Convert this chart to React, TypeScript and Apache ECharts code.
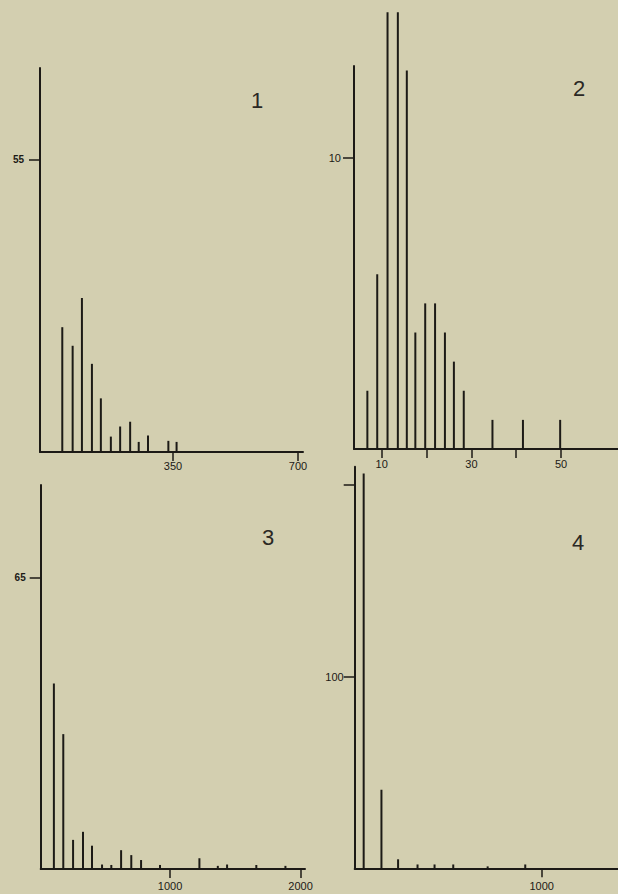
import React, { useEffect, useRef } from "react";
import * as echarts from "echarts";

// Panel 1
const p1X = [40, 69, 95, 123, 148, 176, 202, 230, 254, 280, 337, 360];
const p1Y = [23.5, 20, 29, 16.6, 10.1, 2.9, 4.8, 5.7, 1.9, 3.1, 2.1, 1.9];
const p1XTicks = [350, 700];
const p1XLabels = [350, 700];
const p1YTicks = [55];
const p1YLabels = [55];

// Panel 2
const p2X = [6.8, 9, 11.3, 13.6, 15.6, 17.5, 19.7, 21.9, 24.1, 26.1, 28.3, 34.7, 41.5, 49.8];
const p2Y = [2, 6, 15, 15, 13, 4, 5, 5, 4, 3, 2, 1, 1, 1];
const p2XTicks = [10, 20, 30, 40, 50];
const p2XLabels = [10, 30, 50];
const p2YTicks = [10];
const p2YLabels = [10];

// Panel 3
const p3X = [110, 182, 257, 333, 402, 479, 550, 625, 703, 778, 923, 1225, 1366, 1437, 1661, 1884];
const p3Y = [41.4, 30.1, 6.5, 8.3, 5.2, 1.0, 0.9, 4.2, 3.1, 2.0, 0.9, 2.4, 0.7, 1.0, 0.9, 0.7];
const p3XTicks = [1000, 2000];
const p3XLabels = [1000, 2000];
const p3YTicks = [65];
const p3YLabels = [65];

// Panel 4
const p4X = [48, 143, 232, 336, 427, 527, 711, 912];
const p4Y = [206, 41, 4.7, 2, 2, 2, 1, 2];
const p4XTicks = [1000];
const p4XLabels = [1000];
const p4YTicks = [100, 200];
const p4YLabels = [100];

const panelNames = ["1", "2", "3", "4"];

const INK = "#1c1a16";
const BG = "#d3cfb0";
const FONT = "Liberation Sans, Arial, sans-serif";

const plain = (v: number) => String(v);

function xAxisCfg(gridIndex: number, min: number, max: number, ticks: number[], labels: number[], margin: number) {
  return {
    type: "value",
    gridIndex,
    min,
    max,
    axisLine: { show: true, onZero: false, lineStyle: { color: INK, width: 2 } },
    axisTick: { show: true, length: 9, customValues: ticks, lineStyle: { color: INK, width: 1.5 } },
    axisLabel: { show: true, customValues: labels, formatter: plain, margin, color: INK, fontSize: 11, fontFamily: FONT },
    splitLine: { show: false },
  };
}

function yAxisCfg(gridIndex: number, max: number, ticks: number[], labels: number[], margin: number, bold: boolean, showLine = true) {
  return {
    type: "value",
    gridIndex,
    min: 0,
    max,
    axisLine: { show: showLine, onZero: false, lineStyle: { color: INK, width: 2 } },
    axisTick: { show: true, length: 11, customValues: ticks, lineStyle: { color: INK, width: 1.5 } },
    axisLabel: {
      show: true,
      customValues: labels,
      formatter: plain,
      margin,
      color: INK,
      fontSize: bold ? 10 : 11,
      fontWeight: bold ? "bold" : "normal",
      fontFamily: FONT,
    },
    splitLine: { show: false },
  };
}

function barSeries(idx: number, xs: number[], ys: number[]) {
  return {
    type: "bar",
    xAxisIndex: idx,
    yAxisIndex: idx,
    barWidth: 2,
    data: xs.map((x, i) => [x, ys[i]]),
    itemStyle: { color: INK },
  };
}

export default function App() {
  const ref = useRef<HTMLDivElement>(null);
  useEffect(() => {
    if (!ref.current) return;
    const chart = echarts.init(ref.current, null, { renderer: "svg" });
    chart.setOption({
      animation: false,
      backgroundColor: BG,
      grid: [
        { left: 40, top: 68, width: 263, height: 384 },
        { left: 354, top: 11, width: 264, height: 438 },
        { left: 40.7, top: 485, width: 264.3, height: 384 },
        { left: 354.7, top: 466.7, width: 263.3, height: 401.6 },
        { left: 354, top: 66, width: 264, height: 383 },
      ],
      xAxis: [
        xAxisCfg(0, -22.4, 714, p1XTicks, p1XLabels, 8),
        xAxisCfg(1, 3.82, 62.7, p2XTicks, p2XLabels, 9),
        xAxisCfg(2, 9, 2034, p3XTicks, p3XLabels, 11),
        xAxisCfg(3, 0, 1408, p4XTicks, p4XLabels, 12),
        { type: "value", gridIndex: 4, min: 0, max: 1, show: false },
      ],
      yAxis: [
        yAxisCfg(0, 72.3, p1YTicks, p1YLabels, 16, true),
        yAxisCfg(1, 15.04, p2YTicks, p2YLabels, 13, false, false),
        yAxisCfg(2, 85.7, p3YTicks, p3YLabels, 15, true),
        yAxisCfg(3, 209.6, p4YTicks, p4YLabels, 11, false),
        {
          type: "value",
          gridIndex: 4,
          min: 0,
          max: 13.15,
          axisLine: { show: true, onZero: false, lineStyle: { color: INK, width: 2 } },
          axisTick: { show: false },
          axisLabel: { show: false },
          splitLine: { show: false },
        },
      ],
      series: [
        barSeries(0, p1X, p1Y),
        barSeries(1, p2X, p2Y),
        barSeries(2, p3X, p3Y),
        barSeries(3, p4X, p4Y),
      ],
      graphic: [
        { type: "text", x: 257, y: 100, style: { text: panelNames[0], fill: "#2a2824", fontSize: 22, fontFamily: FONT, align: "center", verticalAlign: "middle" } },
        { type: "text", x: 579, y: 88, style: { text: panelNames[1], fill: "#2a2824", fontSize: 22, fontFamily: FONT, align: "center", verticalAlign: "middle" } },
        { type: "text", x: 268, y: 537, style: { text: panelNames[2], fill: "#2a2824", fontSize: 22, fontFamily: FONT, align: "center", verticalAlign: "middle" } },
        { type: "text", x: 578, y: 542, style: { text: panelNames[3], fill: "#2a2824", fontSize: 22, fontFamily: FONT, align: "center", verticalAlign: "middle" } },
      ],
    });
    return () => chart.dispose();
  }, []);
  return (
    <div
      ref={ref}
      style={{ position: "fixed", left: 0, top: 0, width: 618, height: 894, background: BG }}
    />
  );
}
